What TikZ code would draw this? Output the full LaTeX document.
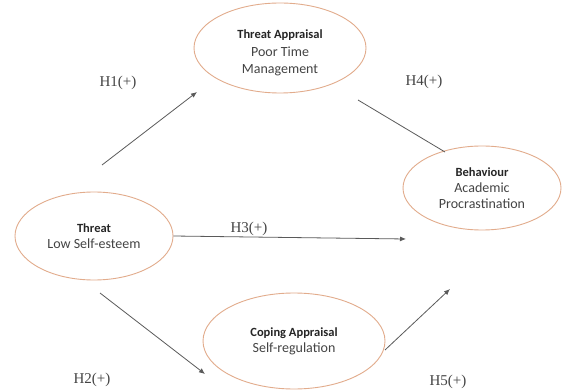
\documentclass[tikz,border=0pt]{standalone}
\usepackage{fontspec}
\setmainfont{Liberation Serif}
\newfontfamily\nodefont{Carlito}
\usetikzlibrary{shapes.geometric,arrows.meta}
\definecolor{ellborder}{HTML}{E2AC8C}
\definecolor{linegray}{HTML}{5A5A5A}
\definecolor{txtgray}{HTML}{444444}
\tikzset{
  construct/.style={ellipse,draw=ellborder,line width=0.9pt,fill=white,inner sep=0pt,
    align=center,text=txtgray,font=\nodefont\fontsize{14}{16}\selectfont},
  ctext/.style={align=center,text=txtgray,inner sep=0pt,font=\nodefont\fontsize{14}{17.5}\selectfont},
  hyp/.style={draw=linegray,line width=0.8pt,-{Latex[length=6pt,width=5pt]}},
  plainhyp/.style={draw=linegray,line width=0.8pt},
  hlabel/.style={font=\fontsize{15}{17}\selectfont,text=txtgray}
}
\newcommand{\ttl}[1]{{\bfseries\fontsize{12.5}{16}\selectfont\color{black!85}#1}}
\begin{document}
\begin{tikzpicture}[x=1pt,y=-1pt]
\useasboundingbox[fill=white] (0,0) rectangle (562,390);
\node[construct,minimum width=172pt,minimum height=90pt] (ta) at (280,48) {};
\node[ctext] (tat) at ([yshift=-5pt]ta.center)
  {\ttl{Threat Appraisal}\\Poor Time\\Management};
\node[construct,minimum width=158pt,minimum height=88pt] (th) at (94,236)
  {\ttl{Threat}\\Low Self-esteem};
\node[construct,minimum width=158pt,minimum height=84pt] (be) at (482,188)
  {\ttl{Behaviour}\\Academic\\Procrastination};
\node[construct,minimum width=182pt,minimum height=96pt] (ca) at (294,341)
  {\ttl{Coping Appraisal}\\Self-regulation};

\coordinate (h1s) at (102,165);
\coordinate (h1e) at (197,92);
\coordinate (h2s) at (100,293);
\coordinate (h2e) at (205,374);
\coordinate (h3e) at (406,239);
\coordinate (h4s) at (358,100);
\coordinate (h4e) at (445,152);
\coordinate (h5s) at (385,350);
\coordinate (h5e) at (450,289);

\draw[hyp] (h1s) -- (h1e);
\draw[hyp] (h2s) -- (h2e);
\draw[hyp] (th.east) -- (h3e);
\draw[plainhyp] (h4s) -- (h4e);
\draw[hyp] (h5s) -- (h5e);

\node[hlabel] (l1) at (118,83) {H1(+)};
\node[hlabel] (l2) at (92,380) {H2(+)};
\node[hlabel] (l3) at (249,229) {H3(+)};
\node[hlabel] (l4) at (424,82) {H4(+)};
\node[hlabel] (l5) at (448,382) {H5(+)};
\end{tikzpicture}
\end{document}
